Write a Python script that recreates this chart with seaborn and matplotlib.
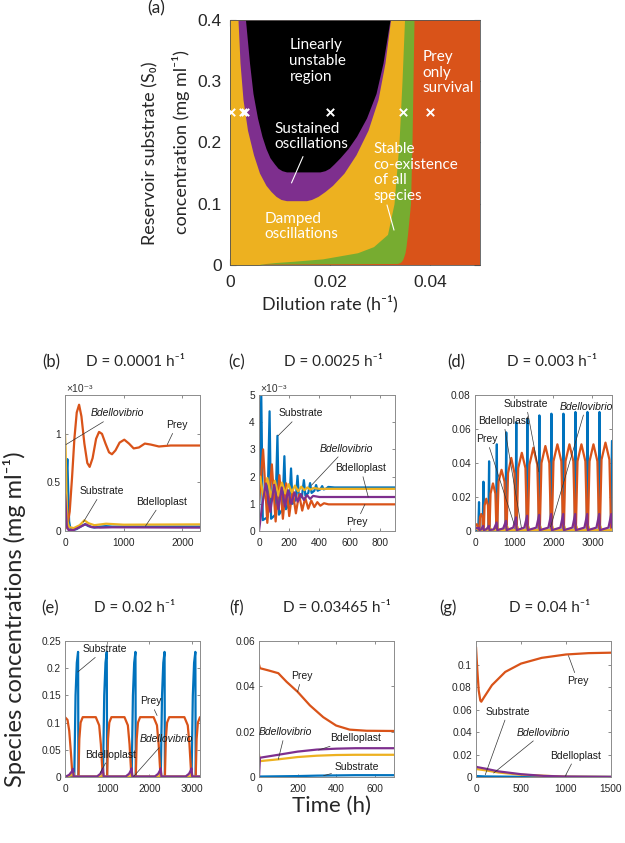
import matplotlib
matplotlib.use("Agg")
import numpy as np
import pandas as pd
import seaborn as sns
from matplotlib import pyplot as plt
from matplotlib.ticker import FuncFormatter

# MATLAB default colour order
BLUE, ORANGE, YELLOW, PURPLE, GREEN = "#0072BD", "#D95319", "#EDB120", "#7E2F8E", "#77AC30"

# ---------- panel (a): region boundaries (dilution rate D at each S0) ----------
a_s_black = [0.152, 0.154, 0.158, 0.165, 0.175, 0.19, 0.21, 0.24, 0.28, 0.33, 0.4]
a_black_left = [0.0113, 0.0104, 0.0096, 0.0089, 0.0080, 0.0072, 0.0064, 0.0055, 0.0046, 0.0039, 0.0031]
a_black_right = [0.0180, 0.0190, 0.0199, 0.0208, 0.0220, 0.0236, 0.0253, 0.0273, 0.0292, 0.0306, 0.0320]

a_s_purple = [0.105, 0.107, 0.112, 0.12, 0.13, 0.15, 0.18, 0.22, 0.27, 0.33, 0.4]
a_purple_left = [0.0113, 0.0102, 0.0092, 0.0082, 0.0072, 0.0059, 0.0047, 0.0035, 0.0026, 0.0020, 0.0016]
a_purple_right = [0.0153, 0.0163, 0.0176, 0.0190, 0.0205, 0.0228, 0.0252, 0.0276, 0.0296, 0.0310, 0.0321]

a_s_green = [0, 0.0015, 0.0025, 0.004, 0.006, 0.01, 0.02, 0.03, 0.05, 0.1, 0.2, 0.3, 0.4]
a_yellow_right = [0.0055, 0.0062, 0.0072, 0.0090, 0.0125, 0.0185, 0.0255, 0.0287, 0.0315, 0.0328, 0.0338, 0.0344, 0.0349]
a_green_right = [0.0060, 0.0068, 0.0335, 0.0340, 0.0343, 0.0346, 0.0350, 0.0352, 0.0355, 0.0361, 0.0364, 0.0366, 0.0368]

a_marker_D = [0.0001, 0.0025, 0.003, 0.02, 0.03465, 0.04]
a_marker_S0 = 0.25

# ---------- panel (b): D = 0.0001, values in 1e-3 mg/ml ----------
b_t_sub = [0, 20, 40, 55, 70, 90, 120, 200, 280, 340, 400, 500, 600, 700, 800, 1000, 1500, 2300]
b_sub = [0.0, 0.5, 0.74, 0.4, 0.1, 0.03, 0.01, 0.02, 0.05, 0.07, 0.05, 0.035, 0.045, 0.05, 0.045, 0.045, 0.045, 0.045]
b_t_prey = [0, 40, 80, 120, 160, 200, 240, 280, 330, 380, 420, 470, 530, 580, 630, 690, 750, 800,
            860, 930, 1010, 1090, 1170, 1260, 1360, 1460, 1600, 1800, 2000, 2300]
b_prey = [0.02, 0.05, 0.2, 0.55, 0.95, 1.22, 1.30, 1.18, 0.9, 0.7, 0.66, 0.75, 0.95, 1.02, 1.0, 0.9, 0.81, 0.79,
          0.83, 0.91, 0.94, 0.9, 0.85, 0.86, 0.9, 0.89, 0.87, 0.88, 0.88, 0.88]
b_t_bdv = [0, 10, 25, 40, 70, 150, 250, 330, 400, 500, 700, 1000, 2300]
b_bdv = [1.0, 0.85, 0.4, 0.1, 0.04, 0.03, 0.06, 0.11, 0.08, 0.06, 0.075, 0.065, 0.068]
b_t_bdp = [0, 10, 30, 60, 150, 250, 350, 450, 600, 800, 2300]
b_bdp = [0.38, 0.3, 0.05, 0.01, 0.01, 0.04, 0.07, 0.04, 0.035, 0.038, 0.035]

# ---------- panel (c): D = 0.0025, values in 1e-3 mg/ml ----------
c_t_sub = [0, 15, 25, 55, 70, 80, 108, 122, 132, 155, 168, 178, 200, 212, 222, 243, 255, 265, 285, 297, 307,
           326, 338, 348, 366, 378, 388, 406, 418, 428, 446, 458, 500, 900]
c_sub = [0.5, 5.0, 0.4, 0.5, 4.4, 0.45, 0.6, 3.5, 0.6, 0.8, 2.75, 0.8, 1.0, 2.3, 1.0, 1.15, 2.03, 1.15, 1.3, 1.87, 1.3,
         1.4, 1.76, 1.4, 1.48, 1.69, 1.48, 1.53, 1.65, 1.53, 1.56, 1.62, 1.6, 1.6]
c_t_prey = [0, 27, 55, 85, 110, 135, 158, 180, 200, 222, 244, 265, 286, 306, 326, 346, 366, 386, 406, 430, 460, 900]
c_prey = [1.0, 3.0, 0.3, 2.45, 0.35, 2.05, 0.45, 1.75, 0.55, 1.5, 0.65, 1.35, 0.75, 1.22, 0.82, 1.12, 0.88, 1.06,
          0.93, 1.02, 0.98, 0.98]
c_t_bdv = [0, 8, 30, 55, 80, 105, 128, 152, 174, 196, 217, 238, 259, 280, 300, 320, 340, 360, 400, 900]
c_bdv = [2.0, 2.0, 1.2, 1.95, 1.25, 1.85, 1.3, 1.78, 1.38, 1.72, 1.42, 1.67, 1.46, 1.63, 1.5, 1.6, 1.52, 1.58, 1.55, 1.55]
c_t_bdp = [0, 20, 45, 75, 100, 128, 150, 172, 192, 214, 235, 256, 277, 297, 318, 338, 358, 400, 900]
c_bdp = [0.0, 0.9, 1.75, 0.7, 1.7, 0.8, 1.6, 0.9, 1.5, 1.0, 1.42, 1.08, 1.36, 1.14, 1.32, 1.18, 1.29, 1.25, 1.25]

# ---------- panel (d): D = 0.003 ----------
d_t_sub = [0, 83, 103, 115, 195, 215, 227, 340, 360, 372, 538, 558, 570, 778, 798, 810, 1035, 1055, 1067,
           1318, 1338, 1350, 1625, 1645, 1657, 1932, 1952, 1964, 2239, 2259, 2271, 2546, 2566, 2578,
           2853, 2873, 2885, 3160, 3180, 3192, 3467, 3500]
d_sub = [0, 0, .017, 0, 0, .029, 0, 0, .041, 0, 0, .051, 0, 0, .058, 0, 0, .064, 0,
         0, .066, 0, 0, .068, 0, 0, .069, 0, 0, .069, 0, 0, .070, 0,
         0, .070, 0, 0, .070, 0, 0, .053]
d_t_prey = [0, 50, 93,
            113, 127, 159, 191, 205, 225, 244, 288, 331, 350, 370, 397, 459, 521, 548,
            568, 601, 678, 755, 788, 808, 844, 926, 1009, 1045, 1065, 1104, 1196, 1289, 1328,
            1348, 1391, 1491, 1592, 1635, 1655, 1698, 1798, 1899, 1942, 1962, 2005, 2105, 2206, 2249,
            2269, 2312, 2412, 2513, 2556, 2576, 2619, 2719, 2820, 2863, 2883, 2926, 3026, 3127, 3170,
            3190, 3233, 3333, 3434, 3477]
d_prey = [0.003, 0.004, 0,
          0, .008, .010, .008, 0, 0, .015, .019, .015, 0, 0, .022, .028, .022, 0,
          0, .029, .036, .029, 0, 0, .034, .043, .034, 0, 0, .037, .046, .037, 0,
          0, .039, .049, .039, 0, 0, .040, .050, .040, 0, 0, .041, .051, .041, 0,
          0, .041, .051, .041, 0, 0, .041, .051, .041, 0, 0, .041, .051, .041, 0,
          0, .042, .052, .042, 0]
d_t_bdv = [0, 103, 123, 163, 215, 235, 275, 360, 380, 420, 558, 578, 618, 798, 818, 858, 1055, 1075, 1115,
           1338, 1358, 1398, 1645, 1665, 1705, 1952, 1972, 2012, 2259, 2279, 2319, 2566, 2586, 2626,
           2873, 2893, 2933, 3180, 3200, 3240, 3487, 3500]
d_bdv = [0.002, .0005, .001, .0005, .0005, .0015, .0005, .0005, .002, .0005, .0005, .002, .0005,
         .0005, .003, .0005, .0005, .003, .0005, .0005, .003, .0005, .0005, .003, .0005, .0005, .003, .0005,
         .0005, .003, .0005, .0005, .003, .0005, .0005, .003, .0005, .0005, .003, .0005, .0005, .002]
d_t_bdp = [0, 60, 98, 113, 160, 210, 225, 290, 355, 370, 480, 553, 568, 720, 793, 808, 977, 1050, 1065,
           1260, 1333, 1348, 1567, 1640, 1655, 1874, 1947, 1962, 2181, 2254, 2269, 2488, 2561, 2576,
           2795, 2868, 2883, 3102, 3175, 3190, 3409, 3482, 3500]
d_bdp = [.002, .0015, .002, .0005, .001, .003, .0005, .001, .003, .0005, .001, .005, .0005, .0015, .006, .0005,
         .002, .008, .0005, .002, .009, .0005, .002, .0095, .0005, .002, .01, .0005, .002, .01, .0005,
         .002, .01, .0005, .002, .01, .0005, .002, .01, .0005, .002, .01, .002]

# ---------- panel (e): D = 0.02 ----------
e_t_sub = [0, 220, 250, 280, 310, 318, 900, 930, 960, 990, 998, 1580, 1610, 1640, 1670, 1678,
           2270, 2300, 2330, 2360, 2368, 3000, 3030, 3060, 3090, 3098, 3200]
e_sub = [0, 0, .15, .21, .23, 0, 0, .15, .21, .23, 0, 0, .15, .21, .23, 0,
         0, .15, .21, .23, 0, 0, .15, .21, .23, 0, 0]
e_t_prey = [0, 60, 100, 140, 170, 185,
            318, 340, 370, 420, 730, 810, 850, 880, 895,
            998, 1020, 1050, 1100, 1410, 1490, 1530, 1560, 1575,
            1678, 1700, 1730, 1780, 2100, 2180, 2220, 2250, 2265,
            2368, 2390, 2420, 2470, 2830, 2910, 2950, 2980, 2995,
            3098, 3120, 3150, 3200]
e_prey = [.11, .105, .085, .045, .01, 0,
          0, .07, .1, .11, .11, .095, .06, .02, 0,
          0, .07, .1, .11, .11, .095, .06, .02, 0,
          0, .07, .1, .11, .11, .095, .06, .02, 0,
          0, .07, .1, .11, .11, .095, .06, .02, 0,
          0, .07, .1, .11]
e_t_bdv = [0, 180, 200, 215, 880, 905, 920, 1560, 1585, 1600, 2250, 2275, 2290, 2980, 3005, 3020, 3200]
e_bdv = [0, .004, .008, .001, .001, .008, .001, .001, .008, .001, .001, .008, .001, .001, .008, .001, .001]
e_t_bdp = [0, 100, 160, 190, 205, 760, 840, 880, 900, 915, 1440, 1520, 1560, 1580, 1595,
           2130, 2210, 2250, 2270, 2285, 2860, 2940, 2980, 3000, 3015, 3200]
e_bdp = [0, .004, .01, .015, .001, .001, .006, .012, .016, .001, .001, .006, .012, .016, .001,
         .001, .006, .012, .016, .001, .001, .006, .012, .016, .001, .001]

# ---------- panel (f): D = 0.03465 ----------
f_t_sub = [0, 100, 200, 300, 400, 500, 700]
f_sub = [.0002, .0003, .0004, .0006, .0007, .0008, .0008]
f_t_prey = [0, 5, 50, 100, 143, 200, 264, 333, 400, 470, 557, 700]
f_prey = [.0496, .048, .047, .0458, .042, .0376, .0316, .0264, .0227, .0209, .0204, .0203]
f_t_bdv = [0, 5, 100, 200, 300, 400, 500, 700]
f_bdv = [.01, .007, .0078, .0088, .0094, .0097, .0098, .0098]
f_t_bdp = [0, 5, 100, 200, 300, 400, 500, 700]
f_bdp = [0, .0085, .0098, .0112, .0121, .0125, .0127, .0127]

# ---------- panel (g): D = 0.04 ----------
g_t_sub = [0, 10, 100, 500, 1500]
g_sub = [.001, .0008, .0005, .0002, .0001]
g_t_prey = [0, 15, 30, 48, 59, 90, 177, 325, 500, 730, 1000, 1250, 1500]
g_prey = [.1156, .095, .077, .068, .067, .071, .0817, .0935, .1009, .106, .109, .1102, .1106]
g_t_bdv = [0, 10, 100, 250, 500, 1000, 1500]
g_bdv = [.01, .007, .006, .004, .002, .0003, .0001]
g_t_bdp = [0, 100, 250, 500, 750, 1000, 1500]
g_bdp = [.009, .0075, .005, .0025, .001, .0004, .0001]

sns.set_style("ticks")
plt.rcParams["font.family"] = ["Liberation Sans", "DejaVu Sans"]
LABEL = ["Lato", "DejaVu Sans"]

W, H = 625, 843
fig = plt.figure(figsize=(W / 100, H / 100), dpi=100)


def axes_px(l, t, r, b):
    return fig.add_axes([l / W, 1 - b / H, (r - l) / W, (b - t) / H])


def ftext(x, y, s, **kw):
    kw.setdefault("ha", "center")
    kw.setdefault("va", "center")
    fig.text(x / W, 1 - y / H, s, **kw)


fmt = FuncFormatter(lambda v, p: f"{v:g}")

# ---------------- panel (a) ----------------
ax = axes_px(230, 20, 480, 265)
ax.fill_between([0, 0.05], 0, 0.4, color=ORANGE, lw=0)
ax.fill_betweenx(a_s_green, 0, a_green_right, color=GREEN, lw=0)
ax.fill_betweenx(a_s_green, 0, a_yellow_right, color=YELLOW, lw=0)
ax.fill_betweenx(a_s_purple, a_purple_left, a_purple_right, color=PURPLE, lw=0)
ax.fill_betweenx(a_s_black, a_black_left, a_black_right, color="black", lw=0)
sns.scatterplot(x=a_marker_D, y=[a_marker_S0] * len(a_marker_D), marker="x", color="white",
                s=28, linewidth=1.4, ax=ax, zorder=5)
ax.set_xlim(0, 0.05)
ax.set_ylim(0, 0.4)
ax.set_xticks([0, 0.02, 0.04])
ax.set_yticks([0, 0.1, 0.2, 0.3, 0.4])
ax.xaxis.set_major_formatter(fmt)
ax.yaxis.set_major_formatter(fmt)
ax.tick_params(direction="in", top=True, right=True, length=4, width=0.8, labelsize=12.5,
               colors="#333333", labelcolor="#262626")
ax.tick_params(axis="x", pad=7)
ax.tick_params(axis="y", pad=6)
for sp in ax.spines.values():
    sp.set_color("#555555")
    sp.set_linewidth(0.6)

inner = dict(color="white", fontsize=11, family=LABEL, linespacing=1.15, va="center", ha="left")
ax.text(0.0119, 0.333, "Linearly\nunstable\nregion", **inner)
ax.text(0.0089, 0.21, "Sustained\noscillations", **inner)
ax.text(0.0069, 0.0626, "Damped\noscillations", **inner)
ax.text(0.0287, 0.151, "Stable\nco-existence\nof all\nspecies", **inner)
ax.text(0.0385, 0.314, "Prey\nonly\nsurvival", **inner)
ax.plot([0.0146, 0.0123], [0.177, 0.134], color="white", lw=0.8)
ax.plot([0.0314, 0.0328], [0.098, 0.057], color="white", lw=0.8)

ftext(156, 8, "(a)", fontsize=12.5, family=LABEL)
ftext(150, 153, "Reservoir substrate (S₀)", rotation=90, fontsize=13, family=LABEL)
ftext(181, 142, "concentration (mg ml⁻¹)", rotation=90, fontsize=13, family=LABEL)
ftext(330, 304, "Dilution rate (h⁻¹)", fontsize=13, family=LABEL)


# ---------------- time-series panels ----------------
def ts_panel(box, series, xmax, ymax, xticks, yticks, notes):
    ax = axes_px(*box)
    for t, y, c in series:
        sns.lineplot(x=t, y=y, color=c, lw=1.6, estimator=None, sort=False, ax=ax)
    ax.set_xlim(0, xmax)
    ax.set_ylim(0, ymax)
    ax.set_xticks(xticks)
    ax.set_yticks(yticks)
    ax.xaxis.set_major_formatter(fmt)
    ax.yaxis.set_major_formatter(fmt)
    ax.set_xlabel("")
    ax.set_ylabel("")
    ax.tick_params(direction="in", top=True, right=True, length=2.5, width=0.6, labelsize=7.3,
                   colors="#777777", labelcolor="#262626")
    ax.tick_params(axis="x", pad=5)
    ax.tick_params(axis="y", pad=3)
    for sp in ax.spines.values():
        sp.set_color("#8c8c8c")
        sp.set_linewidth(0.7)
    for label, txy, exy, ital in notes:
        ax.annotate(label, xy=exy, xytext=txy, ha="center", va="center", fontsize=7.5,
                    style="italic" if ital else "normal", color="#1a1a1a",
                    arrowprops=dict(arrowstyle="-", color="#333333", lw=0.5, shrinkA=0, shrinkB=0),
                    annotation_clip=False)
    return ax


ts_panel((65, 395, 200, 531),
         [(b_t_sub, b_sub, BLUE), (b_t_prey, b_prey, ORANGE), (b_t_bdv, b_bdv, YELLOW), (b_t_bdp, b_bdp, PURPLE)],
         2300, 1.4, [0, 1000, 2000], [0, 0.5, 1],
         [("Bdellovibrio", (886, 1.21), (17, 0.89), True),
          ("Prey", (1900, 1.09), (1743, 0.89), False),
          ("Substrate", (629, 0.41), (314, 0.093), False),
          ("Bdelloplast", (1646, 0.30), (1371, 0.05), False)])
ts_panel((259, 395, 395, 531),
         [(c_t_sub, c_sub, BLUE), (c_t_prey, c_prey, ORANGE), (c_t_bdv, c_bdv, YELLOW), (c_t_bdp, c_bdp, PURPLE)],
         900, 5, [0, 200, 400, 600, 800], [0, 1, 2, 3, 4, 5],
         [("Substrate", (274, 4.32), (126, 3.5), False),
          ("Bdellovibrio", (575, 3.03), (347, 1.68), True),
          ("Bdelloplast", (674, 2.3), (723, 1.25), False),
          ("Prey", (646, 0.33), (701, 0.98), False)])
ts_panel((475, 395, 612, 531),
         [(d_t_sub, d_sub, BLUE), (d_t_prey, d_prey, ORANGE), (d_t_bdv, d_bdv, YELLOW), (d_t_bdp, d_bdp, PURPLE)],
         3500, 0.08, [0, 1000, 2000, 3000], [0, 0.02, 0.04, 0.06, 0.08],
         [("Substrate", (1305, 0.0747), (1631, 0.0348), False),
          ("Bdellovibrio", (2833, 0.0731), (1931, 0.0024), True),
          ("Bdelloplast", (730, 0.0647), (1185, 0.002), False),
          ("Prey", (300, 0.054), (1000, 0.004), False)])
ts_panel((65, 641, 200, 777),
         [(e_t_sub, e_sub, BLUE), (e_t_prey, e_prey, ORANGE), (e_t_bdv, e_bdv, YELLOW), (e_t_bdp, e_bdp, PURPLE)],
         3200, 0.25, [0, 1000, 2000, 3000], [0, 0.05, 0.1, 0.15, 0.2, 0.25],
         [("Substrate", (952, 0.235), (302, 0.193), False),
          ("Prey", (2024, 0.139), (2183, 0.113), False),
          ("Bdellovibrio", (2405, 0.069), (1627, 0.001), True),
          ("Bdelloplast", (1071, 0.041), (833, 0.0074), False)])
ts_panel((259, 641, 394, 777),
         [(f_t_sub, f_sub, BLUE), (f_t_prey, f_prey, ORANGE), (f_t_bdv, f_bdv, YELLOW), (f_t_bdp, f_bdp, PURPLE)],
         700, 0.06, [0, 200, 400, 600], [0, 0.02, 0.04, 0.06],
         [("Prey", (222, 0.0445), (200, 0.0376), False),
          ("Bdellovibrio", (135, 0.0197), (100, 0.0078), True),
          ("Bdelloplast", (500, 0.0172), (309, 0.0119), False),
          ("Substrate", (508, 0.0045), (335, 0.0006), False)])
ts_panel((476, 641, 611, 777),
         [(g_t_sub, g_sub, BLUE), (g_t_prey, g_prey, ORANGE), (g_t_bdv, g_bdv, YELLOW), (g_t_bdp, g_bdp, PURPLE)],
         1500, 0.121, [0, 500, 1000, 1500], [0, 0.02, 0.04, 0.06, 0.08, 0.1],
         [("Prey", (1130, 0.0855), (1027, 0.108), False),
          ("Substrate", (355, 0.058), (103, 0.002), False),
          ("Bdellovibrio", (750, 0.0395), (196, 0.0035), True),
          ("Bdelloplast", (1108, 0.019), (990, 0.0006), False)])

# x10^-3 multipliers for (b) and (c)
ftext(66, 389, "×10⁻³", ha="left", fontsize=7.5, color="#333333")
ftext(260, 389, "×10⁻³", ha="left", fontsize=7.5, color="#333333")

# panel titles
titles = [("(b)", 51, 362, "D = 0.0001 h⁻¹", 135), ("(c)", 237, 362, "D = 0.0025 h⁻¹", 333),
          ("(d)", 456, 362, "D = 0.003 h⁻¹", 552), ("(e)", 50, 608, "D = 0.02 h⁻¹", 135),
          ("(f)", 237, 608, "D = 0.03465 h⁻¹", 337), ("(g)", 448, 608, "D = 0.04 h⁻¹", 550)]
for tag, xt, yt, dtxt, xd in titles:
    ftext(xt, yt, tag, fontsize=12, family=LABEL)
    ftext(xd, yt, dtxt, fontsize=11, family=LABEL)

ftext(15, 619, "Species concentrations (mg ml⁻¹)", rotation=90, fontsize=17, family=LABEL)
ftext(331, 806, "Time (h)", fontsize=16, family=LABEL)

fig.savefig("out.png", dpi=100)
